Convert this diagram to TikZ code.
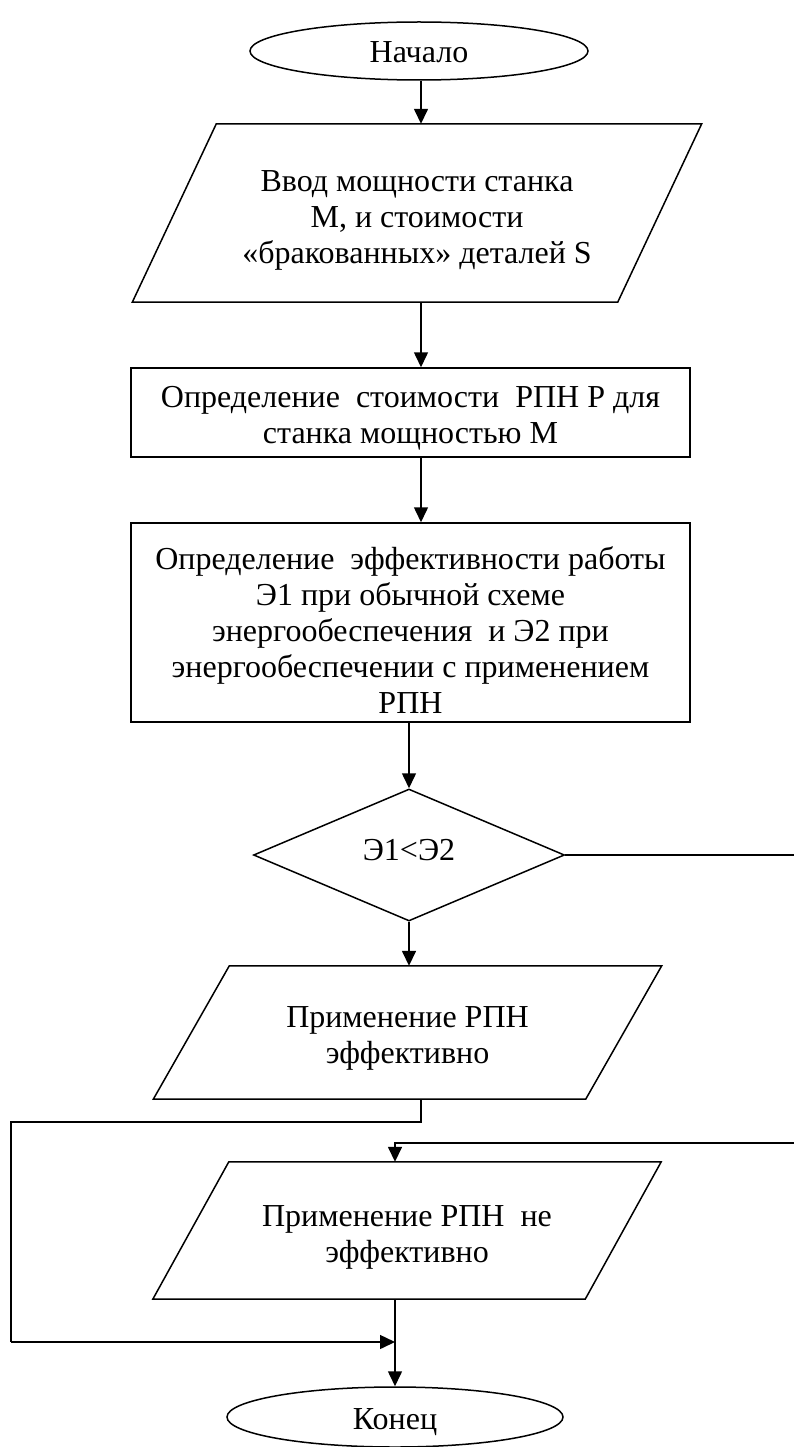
\documentclass[tikz,border=0pt]{standalone}
\usepackage{fontspec}
\setmainfont{Liberation Serif}
\usetikzlibrary{shapes.geometric,arrows.meta}
\newcommand\drawio[2]{\draw[lw] ([xshift=#2]#1.north west) -- ([xshift=#2]#1.north east) -- ([xshift=-#2]#1.south east) -- ([xshift=-#2]#1.south west) -- cycle;}
\begin{document}
\begin{tikzpicture}[x=1pt,y=-1pt,
  lw/.style={line width=1.5pt},
  txt/.style={font=\fontsize{32}{36}\selectfont, align=center, inner sep=0pt},
  term/.style={draw, lw, ellipse, minimum width=338pt, minimum height=58pt, inner sep=0pt},
  proc/.style={draw, lw, rectangle, inner sep=0pt},
  iobox/.style={rectangle, inner sep=0pt},
  dec/.style={draw, lw, diamond, minimum width=311pt, minimum height=132pt, inner sep=0pt},
  arr/.style={lw, -{Triangle[length=15pt,width=14pt]}}
]
\useasboundingbox (0,0) rectangle (793,1447);
\fill[white] (0,0) rectangle (793,1447);

\coordinate (cA) at (421,0);

\node[term] (start) at (419,51) {};
\node[txt] (startt) at ([yshift=-1]start.center) {Начало};

\node[iobox, minimum width=485pt, minimum height=178pt] (p1) at (417,213) {};
\drawio{p1}{42}
\node[txt] (p1t) at ([yshift=-7]p1.center)
  {Ввод мощности станка\\М, и стоимости\\«бракованных» деталей S};

\node[proc, minimum width=559pt, minimum height=89pt] (r2) at (410.5,412.5) {};
\node[txt] (r2t) at ([yshift=-6]r2.center)
  {Определение\ \ стоимости\ \ РПН Р для\\станка мощностью М};

\node[proc, minimum width=559pt, minimum height=199pt] (r3) at (410.5,622.5) {};
\node[txt] (r3t) at ([yshift=-8]r3.center)
  {Определение\ \ эффективности работы\\Э1 при обычной схеме\\энергообеспечения\ \ и Э2 при\\энергообеспечении с применением\\РПН};

\node[dec] (dia) at (409,855) {};
\node[txt] (diat) at ([yshift=5]dia.center) {Э1<Э2};

\node[iobox, minimum width=432pt, minimum height=133pt] (p3) at (407.5,1032.5) {};
\drawio{p3}{38}
\node[txt] (p3t) at ([yshift=-6]p3.center) {Применение РПН\\эффективно};

\node[iobox, minimum width=432pt, minimum height=137pt] (p4) at (407,1230.5) {};
\drawio{p4}{38}
\node[txt] (p4t) at ([yshift=-7]p4.center) {Применение РПН\ \ не\\эффективно};

\node[term, minimum width=336pt, minimum height=60pt] (end) at (395,1417) {};
\node[txt] (endt) at ([yshift=-5]end.center) {Конец};

\coordinate (l1) at (11,1122);
\coordinate (l2) at (11,1342);
\coordinate (rt) at (800,1143);

\draw[arr] (start.south -| cA) -- (p1.north -| cA);
\draw[arr] (p1.south -| cA) -- (r2.north -| cA);
\draw[arr] (r2.south -| cA) -- (r3.north -| cA);
\draw[arr] (r3.south -| dia.north) -- (dia.north);
\draw[arr] (dia.south) -- (dia.south |- p3.north);
\draw[arr] (dia.east) -| (rt) -| (p4.north -| end.north);
\draw[lw] (p3.south -| cA) |- (l1) -- (l2);
\draw[arr] (l2) -- (l2 -| end.north);
\draw[arr] (p4.south -| end.north) -- (end.north);
\end{tikzpicture}
\end{document}
